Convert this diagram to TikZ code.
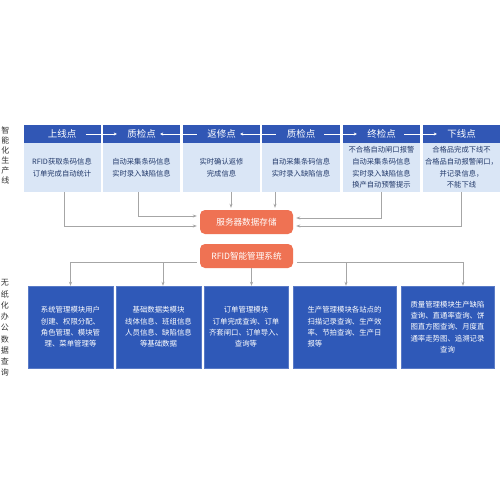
\documentclass[tikz,border=0pt]{standalone}
\usepackage{fontspec}
\newfontfamily\cjk{Noto Sans CJK SC}
\usetikzlibrary{arrows.meta}
\definecolor{hdblue}{HTML}{3157B5}
\definecolor{ltblue}{HTML}{DAE6F6}
\definecolor{txtblue}{HTML}{22396A}
\definecolor{mdblue}{HTML}{2F59B8}
\definecolor{srvorange}{HTML}{EF7253}
\definecolor{linegray}{HTML}{A6A6A6}
\tikzset{
  head/.style = {fill = hdblue, text = white, minimum width = 77pt, minimum height = 18pt, inner sep = 0pt, font = \cjk\fontsize{9.5}{11}\selectfont},
  body/.style = {fill = ltblue, text = txtblue, minimum width = 77pt, minimum height = 49pt, inner sep = 1pt, align = center, font = \cjk\fontsize{7.3}{11.6}\selectfont},
  srv/.style = {fill = srvorange, text = white, rounded corners = 5pt, minimum width = 93pt, minimum height = 24pt, inner sep = 0pt, font = \cjk\fontsize{8.6}{10}\selectfont},
  modbox/.style = {fill = mdblue, draw = mdblue!80!white, text = white, minimum height = 82pt, inner sep = 1pt, font = \cjk\fontsize{7.4}{11.3}\selectfont},
  sidelab/.style = {align = center, text = black!80, inner sep = 0pt, font = \cjk\fontsize{8}{10}\selectfont},
  harr/.style = {white, line width = 0.6pt, -{Stealth[length = 3pt, width = 3pt]}},
  garr/.style = {linegray, line width = 0.6pt, -{Stealth[length = 4pt, width = 3pt]}}
}
\begin{document}
\begin{tikzpicture}[x = 1pt, y = -1pt]
\useasboundingbox[fill = white] (0,0) rectangle (500,500);
% production line
\node[sidelab] at (5.5,155) (lab1) {智\\能\\化\\生\\产\\线};
\node[head] at (62,134) (h1) {上线点};
\node[head] at (141.5,134) (h2) {质检点};
\node[head] at (221.5,134) (h3) {返修点};
\node[head, minimum width = 78pt] at (301,134) (h4) {质检点};
\node[head] at (381.5,134) (h5) {终检点};
\node[head] at (461.5,134) (h6) {下线点};
\node[body] at (62,167.5) (b1) {RFID获取条码信息\\订单完成自动统计};
\node[body] at (141.5,167.5) (b2) {自动采集条码信息\\实时录入缺陷信息};
\node[body] at (221.5,167.5) (b3) {实时确认返修\\完成信息};
\node[body, minimum width = 78pt] at (301,167.5) (b4) {自动采集条码信息\\实时录入缺陷信息};
\node[body] at (381.5,167.5) (b5) {不合格自动闸口报警\\自动采集条码信息\\实时录入缺陷信息\\换产自动预警提示};
\node[body] at (461.5,167.5) (b6) {合格品完成下线不\\合格品自动报警闸口，\\并记录信息，\\不能下线};
\draw[harr] ([xshift = -15pt]h1.east) -- ([xshift = 14pt]h2.west);
\draw[harr, {Stealth[length = 3pt, width = 3pt]}-] ([xshift = -20pt]h2.east) -- ([xshift = 14pt]h3.west);
\draw[harr, {Stealth[length = 3pt, width = 3pt]}-] ([xshift = -20pt]h3.east) -- ([xshift = 14pt]h4.west);
\draw[harr] ([xshift = -16pt]h4.east) -- ([xshift = 14pt]h5.west);
\draw[harr] ([xshift = -16pt]h5.east) -- ([xshift = 14pt]h6.west);
% server and system
\node[srv] at (246.5,222) (srv) {服务器数据存储};
\node[srv] at (246.5,256) (rfid) {RFID智能管理系统};
\draw[garr, shorten > = 3pt] ([xshift = 2pt]b1.south) |- ([yshift = -4pt]srv.west);
\draw[garr, shorten > = 3pt] ([xshift = -3.5pt]b2.south) |- ([yshift = 6pt]srv.west);
\draw[garr, shorten > = 2pt] ([xshift = -15.5pt]srv.north |- b3.south) -- ([xshift = -15.5pt]srv.north);
\draw[garr, shorten > = 2pt] ([xshift = 28.5pt]srv.north |- b4.south) -- ([xshift = 28.5pt]srv.north);
\draw[garr, shorten > = 3pt] (b5.south) |- ([yshift = 4pt]srv.east);
\draw[garr, shorten > = 3pt] (b6.south) |- ([yshift = -4pt]srv.east);
% paperless office
\node[sidelab, font = \cjk\fontsize{8}{11.25}\selectfont] at (5,328) (lab2) {无\\纸\\化\\办\\公\\数\\据\\查\\询};
\node[modbox, minimum width = 85pt, align = center] at (70.5,327) (m1) {系统管理模块用户\\创建、权限分配、\\角色管理、模块管\\理、菜单管理等};
\node[modbox, minimum width = 85pt, align = center] at (158.5,327) (m2) {基础数据类模块\\线体信息、班组信息\\人员信息、缺陷信息\\等基础数据};
\node[modbox, minimum width = 84pt, align = center] at (246,327) (m3) {订单管理模块\\订单完成查询、订单\\齐套闸口、订单导入、\\查询等};
\node[modbox, minimum width = 103pt, align = left] at (344.5,327) (m4) {生产管理模块各站点的\\扫描记录查询、生产效\\率、节拍查询、生产日\\报等};
\node[modbox, minimum width = 93pt, align = center] at (447.5,327) (m5) {质量管理模块生产缺陷\\查询、直通率查询、饼\\图直方图查询、月度直\\通率走势图、追溯记录\\查询};
\draw[garr, shorten < = 3pt] ([yshift = -6pt]rfid.west) -| (m1.north);
\draw[garr, shorten < = 3pt] ([yshift = -6pt]rfid.west) -| ([xshift = 4.5pt]m2.north);
\draw[garr] ([xshift = 5pt]rfid.south) -- ([xshift = 5pt]rfid.south |- m3.north);
\draw[garr, shorten < = 4pt] ([yshift = -6pt]rfid.east) -| ([xshift = 1.5pt]m4.north);
\draw[garr, shorten < = 4pt] ([yshift = -6pt]rfid.east) -| ([xshift = 15.5pt]m5.north);
\end{tikzpicture}
\end{document}
